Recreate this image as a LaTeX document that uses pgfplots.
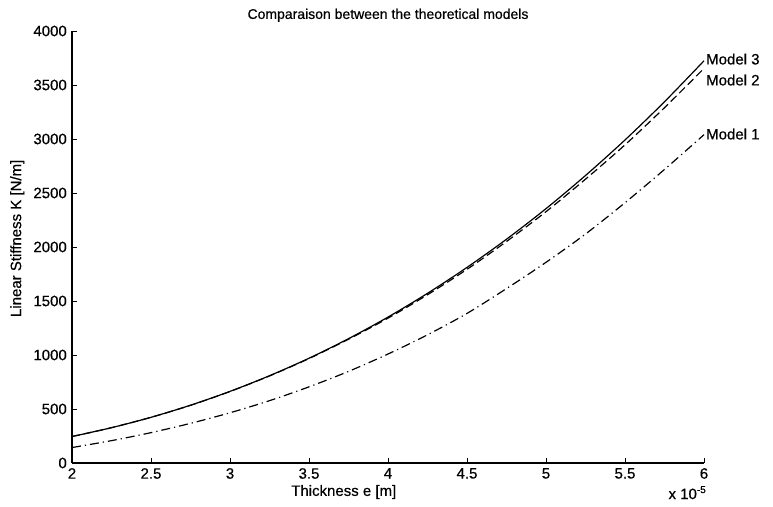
\documentclass[border=0pt]{standalone}
\usepackage{fontspec}
\setmainfont{Liberation Sans}[FakeBold=0.5]
\usepackage{pgfplots}
\pgfplotsset{compat=1.18}
\usetikzlibrary{calc}
\begin{document}
\fontsize{15}{17}\selectfont
\begin{tikzpicture}
\begin{axis}[
  scale only axis,
  width=632pt, height=432pt,
  xmin=2, xmax=6, ymin=0, ymax=4000,
  axis x line*=bottom, axis y line*=left,
  axis line style={line width=1.1pt},
  tick align=inside,
  major tick length=5pt,
  tick style={line width=0.8pt, black},
  xtick={2,2.5,...,6},
  ytick={0,500,...,4000},
  scaled x ticks=false,
  /pgf/number format/assume math mode=true,
  /pgf/number format/set thousands separator={},
  ticklabel style={font=\fontsize{15}{17}\selectfont},
  xlabel={Thickness e [m]},
  ylabel={Linear Stiffness K [N/m]},
  xlabel style={font=\fontsize{15}{17}\selectfont, at={(ticklabel cs:0.43)}, anchor=near ticklabel, yshift=4pt},
  ylabel style={font=\fontsize{15}{17}\selectfont, at={(ticklabel cs:0.52)}, anchor=near ticklabel, yshift=-1pt},
  title={Comparaison between the theoretical models},
  title style={font=\fontsize{14}{16}\selectfont, yshift=-2pt},
  clip=false,
]
\addplot[black, line width=1.2pt, smooth] coordinates {
(2.00,245) (2.25,327) (2.50,423) (2.75,535) (3.00,663) (3.25,808) (3.50,970)
(3.75,1151) (4.00,1351) (4.25,1571) (4.50,1811) (4.75,2072) (5.00,2355)
(5.25,2662) (5.50,2991) (5.75,3345) (6.00,3724)};
\addplot[black, line width=1.2pt, smooth, dash pattern=on 8pt off 4pt] coordinates {
(2.00,245) (2.25,327) (2.50,423) (2.75,534) (3.00,662) (3.25,806) (3.50,967)
(3.75,1146) (4.00,1341) (4.25,1558) (4.50,1793) (4.75,2051) (5.00,2327)
(5.25,2628) (5.50,2946) (5.75,3290) (6.00,3654)};
\addplot[black, line width=1.2pt, smooth, dash pattern=on 9pt off 4pt on 1.2pt off 4pt] coordinates {
(2.00,143) (2.25,207) (2.50,281) (2.75,367) (3.00,465) (3.25,577) (3.50,705)
(3.75,848) (4.00,1009) (4.25,1187) (4.50,1385) (4.75,1615) (5.00,1858)
(5.25,2120) (5.50,2410) (5.75,2718) (6.00,3040)};
\node[anchor=west, inner sep=2pt] at (axis cs:6,3740) {Model 3};
\node[anchor=west, inner sep=2pt] at (axis cs:6,3546) {Model 2};
\node[anchor=west, inner sep=2pt] at (axis cs:6,3046) {Model 1};
\node[anchor=north east, inner sep=0pt] at ($(rel axis cs:1,0)+(2pt,-23pt)$) {x 10\raisebox{6pt}{\fontsize{10}{12}\selectfont -5}};
\end{axis}
\pgfresetboundingbox
\path ($(current axis.south west)+(-72pt,-44pt)$) rectangle ($(current axis.north east)+(69pt,31pt)$);
\end{tikzpicture}
\end{document}
